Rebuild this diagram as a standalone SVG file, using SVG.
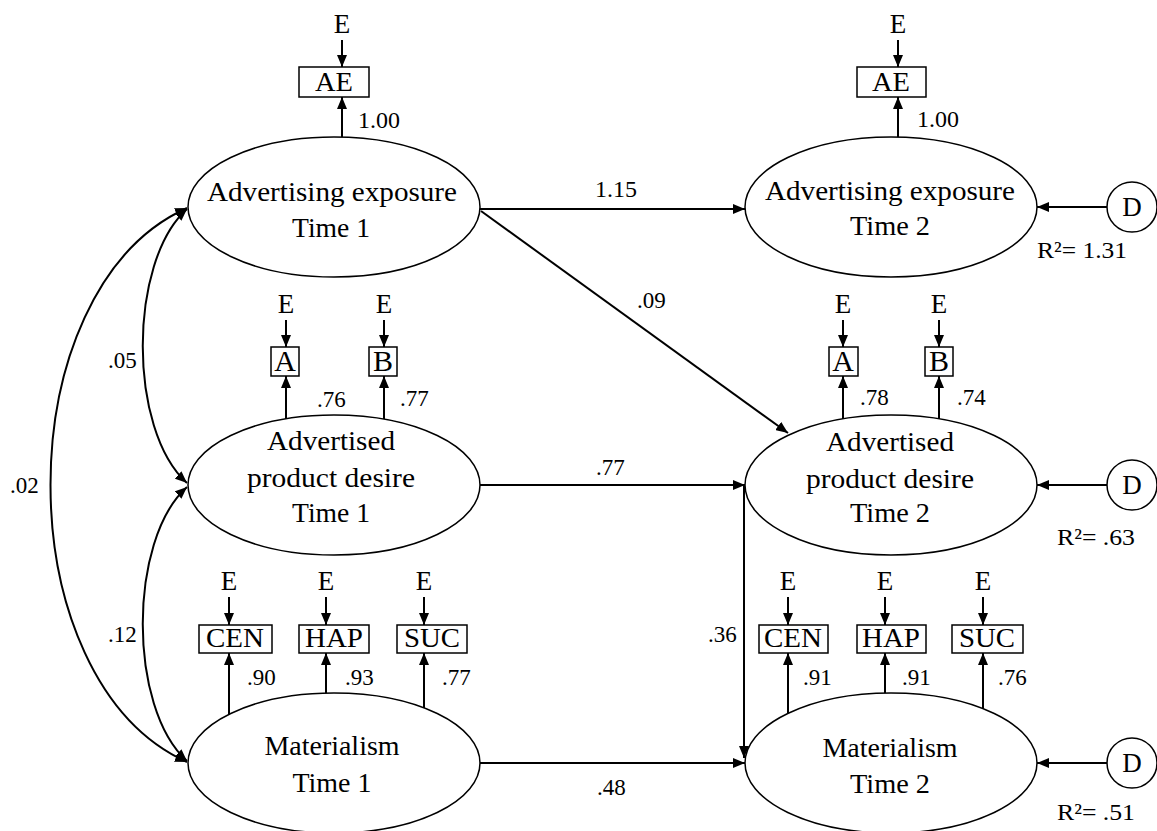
<svg xmlns="http://www.w3.org/2000/svg" width="1157" height="831" viewBox="0 0 1157 831" font-family="'Liberation Serif', 'Times New Roman', 'DejaVu Serif', serif">
<defs>
<marker id="ah" markerUnits="userSpaceOnUse" markerWidth="12" markerHeight="10" refX="12" refY="5" orient="auto-start-reverse" viewBox="0 0 12 10">
<path d="M0,0 L12,5 L0,10 z" fill="#000"/>
</marker>
<style>
text{font-family:'Liberation Serif','Times New Roman','DejaVu Serif',serif;fill:#000}
.lb{font-size:27px;text-anchor:middle}
.bx{font-size:27px;text-anchor:middle}
.n{font-size:23px}
.box{fill:#fff;stroke:#000;stroke-width:1.5}
.el{fill:#fff;stroke:#000;stroke-width:1.5}
.ar{fill:none;stroke:#000;stroke-width:2;marker-end:url(#ah)}
.bi{fill:none;stroke:#000;stroke-width:2;marker-start:url(#ah);marker-end:url(#ah)}
</style>
</defs>
<rect width="1157" height="831" fill="#fff"/>

<g id="connectors">
<path class="ar" d="M480,209 L745,209"/>
<path class="ar" d="M481,211 L788,433"/>
<path class="ar" d="M480,485 L745,485"/>
<path class="ar" d="M480,763 L745,763"/>
<path class="ar" d="M744,485 L744,758"/>
<path class="bi" d="M187,208 C5,290 5,680 187,762"/>
<path class="bi" d="M187,209 C128,262 128,430 187,483"/>
<path class="bi" d="M187,487 C128,540 128,708 187,761"/>
<path class="ar" d="M1107,207 L1037,207"/>
<path class="ar" d="M1107,485 L1037,485"/>
<path class="ar" d="M1107,763 L1037,763"/>
<path class="ar" d="M342,137 L342,97"/>
<path class="ar" d="M898,137 L898,97"/>
<path class="ar" d="M286,419 L286,376"/>
<path class="ar" d="M384,419 L384,376"/>
<path class="ar" d="M843,419 L843,376"/>
<path class="ar" d="M939,419 L939,376"/>
<path class="ar" d="M229,714 L229,653"/>
<path class="ar" d="M326,693 L326,653"/>
<path class="ar" d="M424,708 L424,653"/>
<path class="ar" d="M788,713 L788,653"/>
<path class="ar" d="M885,693 L885,653"/>
<path class="ar" d="M983,709 L983,653"/>
<path class="ar" d="M342,40 L342,67"/>
<path class="ar" d="M898,40 L898,67"/>
<path class="ar" d="M286,320 L286,347"/>
<path class="ar" d="M384,320 L384,347"/>
<path class="ar" d="M843,320 L843,347"/>
<path class="ar" d="M939,320 L939,347"/>
<path class="ar" d="M229,597 L229,625"/>
<path class="ar" d="M326,597 L326,625"/>
<path class="ar" d="M424,597 L424,625"/>
<path class="ar" d="M788,597 L788,625"/>
<path class="ar" d="M885,597 L885,625"/>
<path class="ar" d="M983,597 L983,625"/>
</g>

<g id="labels">
<text class="n" x="595" y="197" textLength="42" lengthAdjust="spacingAndGlyphs">1.15</text>
<text class="n" x="637" y="308">.09</text>
<text class="n" x="596" y="475">.77</text>
<text class="n" x="597" y="795">.48</text>
<text class="n" x="708" y="642">.36</text>
<text class="n" x="10" y="493">.02</text>
<text class="n" x="108" y="368">.05</text>
<text class="n" x="108" y="642">.12</text>
<text class="n" x="358" y="128" textLength="42" lengthAdjust="spacingAndGlyphs">1.00</text>
<text class="n" x="917" y="127" textLength="42" lengthAdjust="spacingAndGlyphs">1.00</text>
<text class="n" x="317" y="407">.76</text>
<text class="n" x="400" y="406">.77</text>
<text class="n" x="860" y="405">.78</text>
<text class="n" x="957" y="405">.74</text>
<text class="n" x="247" y="685">.90</text>
<text class="n" x="345" y="685">.93</text>
<text class="n" x="442" y="685">.77</text>
<text class="n" x="803" y="685">.91</text>
<text class="n" x="902" y="685">.91</text>
<text class="n" x="998" y="685">.76</text>
<text class="n" x="1037" y="258" textLength="90" lengthAdjust="spacingAndGlyphs">R²= 1.31</text>
<text class="n" x="1057" y="545" textLength="78" lengthAdjust="spacingAndGlyphs">R²= .63</text>
<text class="n" x="1057" y="820" textLength="78" lengthAdjust="spacingAndGlyphs">R²= .51</text>
</g>

<g id="ae1"><ellipse class="el" cx="334" cy="207" rx="146" ry="70"/><text class="lb" x="332" y="201" textLength="250" lengthAdjust="spacingAndGlyphs">Advertising exposure</text><text class="lb" x="331" y="237" textLength="78" lengthAdjust="spacingAndGlyphs">Time 1</text></g>
<g id="ae2"><ellipse class="el" cx="891" cy="207" rx="146" ry="70"/><text class="lb" x="890" y="200" textLength="250" lengthAdjust="spacingAndGlyphs">Advertising exposure</text><text class="lb" x="890" y="235" textLength="80" lengthAdjust="spacingAndGlyphs">Time 2</text></g>
<g id="pd1"><ellipse class="el" cx="334" cy="485" rx="146" ry="70"/><text class="lb" x="331" y="450" textLength="128" lengthAdjust="spacingAndGlyphs">Advertised</text><text class="lb" x="331" y="487" textLength="168" lengthAdjust="spacingAndGlyphs">product desire</text><text class="lb" x="331" y="522" textLength="78" lengthAdjust="spacingAndGlyphs">Time 1</text></g>
<g id="pd2"><ellipse class="el" cx="891" cy="485" rx="146" ry="70"/><text class="lb" x="890" y="451" textLength="128" lengthAdjust="spacingAndGlyphs">Advertised</text><text class="lb" x="890" y="488" textLength="168" lengthAdjust="spacingAndGlyphs">product desire</text><text class="lb" x="890" y="522" textLength="80" lengthAdjust="spacingAndGlyphs">Time 2</text></g>
<g id="m1"><ellipse class="el" cx="334" cy="763" rx="146" ry="70"/><text class="lb" x="332" y="755" textLength="135" lengthAdjust="spacingAndGlyphs">Materialism</text><text class="lb" x="332" y="792" textLength="79" lengthAdjust="spacingAndGlyphs">Time 1</text></g>
<g id="m2"><ellipse class="el" cx="891" cy="763" rx="146" ry="70"/><text class="lb" x="890" y="757" textLength="135" lengthAdjust="spacingAndGlyphs">Materialism</text><text class="lb" x="890" y="793" textLength="80" lengthAdjust="spacingAndGlyphs">Time 2</text></g>

<g id="d1"><circle class="el" cx="1132" cy="207" r="25"/><text class="lb" x="1132" y="216">D</text></g>
<g id="d2"><circle class="el" cx="1132" cy="485" r="25"/><text class="lb" x="1132" y="494">D</text></g>
<g id="d3"><circle class="el" cx="1132" cy="763" r="25"/><text class="lb" x="1132" y="772">D</text></g>

<g id="ae1box"><rect class="box" x="299" y="67" width="70" height="30"/><text class="bx" x="334" y="91" textLength="38" lengthAdjust="spacingAndGlyphs">AE</text></g>
<g id="ae2box"><rect class="box" x="857" y="67" width="69" height="30"/><text class="bx" x="891" y="91" textLength="38" lengthAdjust="spacingAndGlyphs">AE</text></g>
<g id="a1box"><rect class="box" x="271" y="347" width="28" height="29"/><text class="bx" x="285" y="371" style="font-size:30px">A</text></g>
<g id="b1box"><rect class="box" x="369" y="347" width="28" height="29"/><text class="bx" x="383" y="371" style="font-size:30px">B</text></g>
<g id="a2box"><rect class="box" x="829" y="347" width="29" height="29"/><text class="bx" x="843" y="371" style="font-size:30px">A</text></g>
<g id="b2box"><rect class="box" x="925" y="347" width="28" height="29"/><text class="bx" x="939" y="371" style="font-size:30px">B</text></g>
<g id="cen1"><rect class="box" x="199" y="625" width="73" height="28"/><text class="bx" x="235" y="647" textLength="58" lengthAdjust="spacingAndGlyphs">CEN</text></g>
<g id="hap1"><rect class="box" x="299" y="625" width="70" height="28"/><text class="bx" x="334" y="647" textLength="58" lengthAdjust="spacingAndGlyphs">HAP</text></g>
<g id="suc1"><rect class="box" x="397" y="625" width="70" height="28"/><text class="bx" x="432" y="647" textLength="56" lengthAdjust="spacingAndGlyphs">SUC</text></g>
<g id="cen2"><rect class="box" x="759" y="625" width="69" height="28"/><text class="bx" x="793" y="647" textLength="58" lengthAdjust="spacingAndGlyphs">CEN</text></g>
<g id="hap2"><rect class="box" x="857" y="625" width="69" height="28"/><text class="bx" x="891" y="647" textLength="58" lengthAdjust="spacingAndGlyphs">HAP</text></g>
<g id="suc2"><rect class="box" x="952" y="625" width="71" height="28"/><text class="bx" x="987" y="647" textLength="56" lengthAdjust="spacingAndGlyphs">SUC</text></g>

<g id="errors">
<text class="lb" x="342" y="33">E</text>
<text class="lb" x="898" y="33">E</text>
<text class="lb" x="286" y="313">E</text>
<text class="lb" x="384" y="313">E</text>
<text class="lb" x="843" y="313">E</text>
<text class="lb" x="939" y="313">E</text>
<text class="lb" x="229" y="590">E</text>
<text class="lb" x="326" y="590">E</text>
<text class="lb" x="424" y="590">E</text>
<text class="lb" x="788" y="590">E</text>
<text class="lb" x="885" y="590">E</text>
<text class="lb" x="983" y="590">E</text>
</g>
</svg>
